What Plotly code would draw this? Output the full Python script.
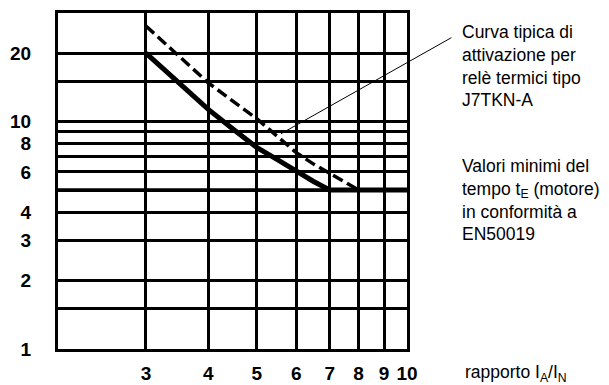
import numpy as np
import plotly.graph_objects as go

# ---- data ----
x_ticks = [3, 4, 5, 6, 7, 8, 9, 10]
x_ticktext = ["3", "4", "5", "6", "7", "8", "9", "10"]
y_ticks = [1, 2, 3, 4, 6, 8, 10, 20]
y_ticktext = ["1", "2", "3", "4", "6", "8", "10", "20"]
y_minor_grid = [1.5, 5, 7, 9, 15]

# minimum values of time tE (motor) per EN50019 (solid)
x_min_curve = [3, 3.5, 4, 4.5, 5, 5.5, 6, 6.5, 7, 10]
y_min_curve = [20, 14.8, 11.3, 9.2, 7.7, 6.8, 6.05, 5.45, 5.0, 5.0]

# typical tripping curve J7TKN-A (dashed)
x_typ_curve = [3, 3.5, 4, 4.5, 5, 5.5, 6, 6.5, 7, 7.5, 8]
y_typ_curve = [26.3, 19.4, 14.8, 12.2, 10.3, 8.6, 7.3, 6.5, 5.9, 5.4, 5.0]

emphasised_level = 5
leader_point = (5.59, 8.83)

text_typ = "Curva tipica di<br>attivazione per<br>relè termici tipo<br>J7TKN-A"
text_min = "Valori minimi del<br>tempo t<sub>E</sub> (motore)<br>in conformità a<br>EN50019"
text_x = "rapporto I<sub>A</sub>/I<sub>N</sub>"

# ---- layout geometry ----
W, H = 609, 385
ML, MR, MT, MB = 58, 202, 13, 36
PW, PH = W - ML - MR, H - MT - MB


def px_x(px):
    return (px - ML) / PW


def px_y(py):
    return 1 - (py - MT) / PH


FONT = "Liberation Sans, Arial, Helvetica, sans-serif"

fig = go.Figure()
fig.add_trace(go.Scatter(x=x_min_curve, y=y_min_curve, mode="lines",
                         line=dict(color="black", width=5), hoverinfo="skip"))
fig.add_trace(go.Scatter(x=x_typ_curve, y=y_typ_curve, mode="lines",
                         line=dict(color="black", width=3.5, dash="11px,5px"),
                         hoverinfo="skip"))

fig.add_shape(type="line", xref="paper", x0=0, x1=1, yref="y",
              y0=emphasised_level, y1=emphasised_level,
              line=dict(color="black", width=3.5), layer="below")

fig.update_layout(
    width=W, height=H,
    margin=dict(l=ML, r=MR, t=MT, b=MB, pad=0, autoexpand=False),
    paper_bgcolor="white", plot_bgcolor="white",
    showlegend=False,
    font=dict(family=FONT, color="black"),
    xaxis=dict(type="log", range=[np.log10(2), 1],
               tickvals=x_ticks, ticktext=x_ticktext,
               showgrid=True, gridcolor="black", gridwidth=2.5,
               showline=True, linecolor="black", linewidth=3, mirror=True,
               ticks="", zeroline=False, ticklabelstandoff=5,
               automargin=False,
               tickfont=dict(family=FONT, size=19, color="black", weight="bold")),
    yaxis=dict(type="log", range=[0, np.log10(30)],
               tickvals=y_ticks, ticktext=y_ticktext,
               showgrid=True, gridcolor="black", gridwidth=2.5,
               minor=dict(tickvals=y_minor_grid, showgrid=True,
                          gridcolor="black", gridwidth=2.5, ticks=""),
               showline=True, linecolor="black", linewidth=3, mirror=True,
               ticks="", zeroline=False, ticklabelstandoff=20,
               automargin=False,
               tickfont=dict(family=FONT, size=19, color="black", weight="bold")),
)

# leader line
fig.add_annotation(x=np.log10(leader_point[0]), y=np.log10(leader_point[1]),
                   xref="x", yref="y", text="", showarrow=True,
                   arrowhead=0, arrowwidth=1, arrowcolor="black",
                   ax=172, ay=-97, standoff=0, startstandoff=0)

fig.add_annotation(x=px_x(460), y=px_y(66), xref="paper", yref="paper",
                   text=text_typ, showarrow=False, xanchor="left",
                   yanchor="middle", align="left",
                   font=dict(family=FONT, size=17.5, color="black"))
fig.add_annotation(x=px_x(460), y=px_y(200), xref="paper", yref="paper",
                   text=text_min, showarrow=False, xanchor="left",
                   yanchor="middle", align="left",
                   font=dict(family=FONT, size=17.5, color="black"))
fig.add_annotation(x=px_x(463), y=px_y(373), xref="paper", yref="paper",
                   text=text_x, showarrow=False, xanchor="left",
                   yanchor="middle", align="left",
                   font=dict(family=FONT, size=17.5, color="black"))

fig.write_html("out.html")
